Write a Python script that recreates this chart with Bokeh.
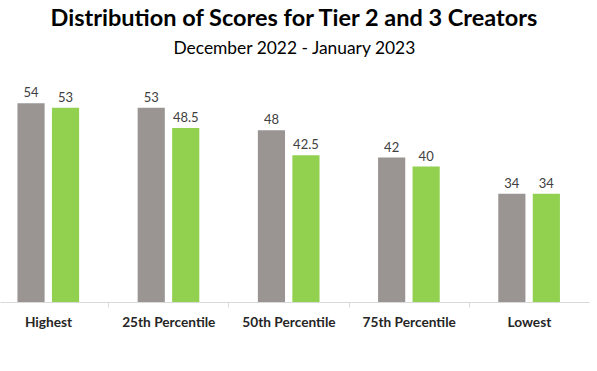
import numpy as np
from bokeh.plotting import figure
from bokeh.models import Range1d, FixedTicker, Legend, LegendItem, Title, ColumnDataSource
from bokeh.core.properties import value
from bokeh.embed import file_html
from bokeh.resources import INLINE

# ---- data ----
categories = ["Highest", "25th Percentile", "50th Percentile", "75th Percentile", "Lowest"]
tier2 = [54, 53, 48, 42, 34]
tier3 = [53, 48.5, 42.5, 40, 34]
series_names = ["Tier 2 Creators", "Tier 3 Creators"]
title_text = "Distribution of Scores for Tier 2 and 3 Creators"
subtitle_text = "December 2022 - January 2023"

# ---- style ----
GRAY = "#9A9593"
GREEN = "#92D050"
FONT = "Lato"
Y_START = 10
Y_END = 63.2
FRAME_H = 241

centers = np.arange(len(categories)) + 0.5
src = ColumnDataSource(dict(
    x2=centers - 0.146, x3=centers + 0.141,
    t2=tier2, t3=tier3,
    l2=[f"{v:g}" for v in tier2], l3=[f"{v:g}" for v in tier3],
))

p = figure(frame_width=589, frame_height=FRAME_H, output_backend="svg", toolbar_location=None,
           x_range=Range1d(0.1, 5.0), y_range=Range1d(Y_START, Y_END),
           y_axis_location=None, min_border_left=0, min_border_right=8,
           min_border_top=0, min_border_bottom=0, title=None)
p.outline_line_color = None
p.xgrid.visible = False
p.ygrid.visible = False

r2 = p.vbar(x="x2", top="t2", bottom=0, width=0.226, source=src,
            fill_color=GRAY, line_color=None)
r3 = p.vbar(x="x3", top="t3", bottom=0, width=0.226, source=src,
            fill_color=GREEN, line_color=None)

for xc, yc, lc in (("x2", "t2", "l2"), ("x3", "t3", "l3")):
    p.text(x=xc, y=yc, text=lc, source=src,
           text_font=value(FONT), text_font_size="13px", text_color="#404040",
           text_align="center", text_baseline="alphabetic", y_offset=-11)

ax = p.xaxis[0]
ax.ticker = FixedTicker(ticks=list(centers), minor_ticks=[1.0, 2.0, 3.0, 4.0])
ax.major_label_overrides = {float(c): name for c, name in zip(centers, categories)}
ax.axis_label = None
ax.axis_label_standoff = 0
ax.axis_label_text_font_size = "0px"
ax.axis_line_color = "#D9D9D9"
ax.major_tick_line_color = None
ax.major_tick_out = 0
ax.minor_tick_line_color = "#D9D9D9"
ax.minor_tick_out = 5
ax.minor_tick_in = 0
ax.major_label_standoff = 5
ax.major_label_text_font = FONT
ax.major_label_text_font_style = "bold"
ax.major_label_text_font_size = "13.7px"
ax.major_label_text_color = "#262626"

legend = Legend(items=[LegendItem(label=series_names[0], renderers=[r2]),
                       LegendItem(label=series_names[1], renderers=[r3])],
                orientation="horizontal", location="top_center",
                glyph_width=9, glyph_height=9, label_standoff=3, spacing=14,
                label_height=14, label_text_font=FONT, label_text_font_size="14px",
                label_text_color="#595959", border_line_color=None,
                background_fill_alpha=0, padding=0, margin=0)
p.add_layout(legend, "below")

p.add_layout(Title(text=subtitle_text, align="center", text_font=FONT,
                   text_font_size="17.4px", text_font_style="normal",
                   text_color="#000000", standoff=8, offset=5), "above")
p.add_layout(Title(text=title_text, align="center", text_font=FONT,
                   text_font_size="23.5px", text_font_style="bold",
                   text_color="#000000", standoff=0, offset=7), "above")

open("out.html", "w").write(file_html(p, INLINE))
